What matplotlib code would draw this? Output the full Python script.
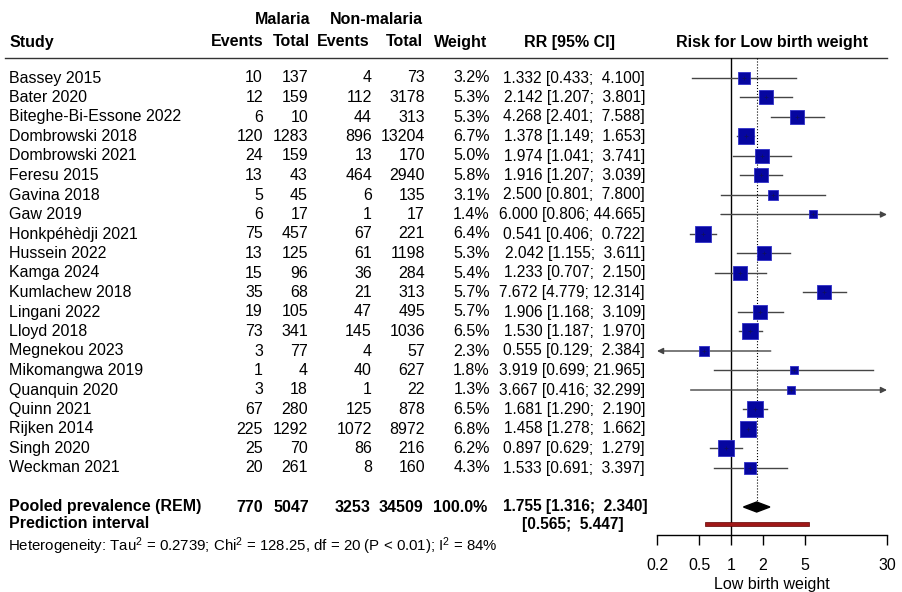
import numpy as np
import matplotlib.pyplot as plt
from matplotlib.patches import Rectangle, Polygon
from matplotlib.ticker import NullLocator

plt.rcParams['font.family'] = ['Liberation Sans', 'DejaVu Sans']
plt.rcParams['mathtext.fontset'] = 'custom'
plt.rcParams['mathtext.rm'] = 'Liberation Sans'
plt.rcParams['mathtext.default'] = 'regular'

# Study data
studies = ["Bassey 2015", "Bater 2020", "Biteghe-Bi-Essone 2022", "Dombrowski 2018",
           "Dombrowski 2021", "Feresu 2015", "Gavina 2018", "Gaw 2019", "Honkpéhèdji 2021",
           "Hussein 2022", "Kamga 2024", "Kumlachew 2018", "Lingani 2022", "Lloyd 2018",
           "Megnekou 2023", "Mikomangwa 2019", "Quanquin 2020", "Quinn 2021", "Rijken 2014",
           "Singh 2020", "Weckman 2021"]
ev_mal = [10, 12, 6, 120, 24, 13, 5, 6, 75, 13, 15, 35, 19, 73, 3, 1, 3, 67, 225, 25, 20]
tot_mal = [137, 159, 10, 1283, 159, 43, 45, 17, 457, 125, 96, 68, 105, 341, 77, 4, 18, 280, 1292, 70, 261]
ev_non = [4, 112, 44, 896, 13, 464, 6, 1, 67, 61, 36, 21, 47, 145, 4, 40, 1, 125, 1072, 86, 8]
tot_non = [73, 3178, 313, 13204, 170, 2940, 135, 17, 221, 1198, 284, 313, 495, 1036, 57, 627, 22, 878, 8972, 216, 160]
weight = [3.2, 5.3, 5.3, 6.7, 5.0, 5.8, 3.1, 1.4, 6.4, 5.3, 5.4, 5.7, 5.7, 6.5, 2.3, 1.8, 1.3, 6.5, 6.8, 6.2, 4.3]
rr = [1.332, 2.142, 4.268, 1.378, 1.974, 1.916, 2.500, 6.000, 0.541, 2.042, 1.233, 7.672,
      1.906, 1.530, 0.555, 3.919, 3.667, 1.681, 1.458, 0.897, 1.533]
lo = [0.433, 1.207, 2.401, 1.149, 1.041, 1.207, 0.801, 0.806, 0.406, 1.155, 0.707, 4.779,
      1.168, 1.187, 0.129, 0.699, 0.416, 1.290, 1.278, 0.629, 0.691]
hi = [4.100, 3.801, 7.588, 1.653, 3.741, 3.039, 7.800, 44.665, 0.722, 3.611, 2.150, 12.314,
      3.109, 1.970, 2.384, 21.965, 32.299, 2.190, 1.662, 1.279, 3.397]

pooled = [1.755, 1.316, 2.340]
pred_int = [0.565, 5.447]
pooled_totals = [770, 5047, 3253, 34509]
ticks = [0.2, 0.5, 1, 2, 5, 30]

W, H = 902, 592
fig = plt.figure(figsize=(W / 100, H / 100), dpi=100)

# background axes in pixel coordinates for the table text
bg = fig.add_axes([0, 0, 1, 1])
bg.set_xlim(0, W)
bg.set_ylim(H, 0)
bg.axis('off')

fs = 11.5
fs_rr = 11.2
row_y = 78 + 19.5 * np.arange(len(studies))
pool_y, pred_y, het_y = 507, 524, 546

# headers
bg.text(283, 20, "Malaria", ha='center', va='center', fontsize=fs, fontweight='bold')
bg.text(376, 20, "Non-malaria", ha='center', va='center', fontsize=fs, fontweight='bold')
bg.text(10, 42, "Study", ha='left', va='center', fontsize=fs, fontweight='bold')
for x, lab in zip([263, 310, 370, 423, 487], ["Events", "Total", "Events", "Total", "Weight"]):
    bg.text(x, 42, lab, ha='right', va='center', fontsize=fs, fontweight='bold')
bg.text(570, 42, "RR [95% CI]", ha='center', va='center', fontsize=fs, fontweight='bold')
bg.text(772, 42, "Risk for Low birth weight", ha='center', va='center', fontsize=fs, fontweight='bold')
bg.plot([5, 887], [58, 58], color='#333333', lw=1)

# study rows
for i, y in enumerate(row_y):
    bg.text(9, y, studies[i], ha='left', va='center', fontsize=fs)
    bg.text(263, y, str(ev_mal[i]), ha='right', va='center', fontsize=fs)
    bg.text(308, y, str(tot_mal[i]), ha='right', va='center', fontsize=fs)
    bg.text(372, y, str(ev_non[i]), ha='right', va='center', fontsize=fs)
    bg.text(425, y, str(tot_non[i]), ha='right', va='center', fontsize=fs)
    bg.text(490, y, f"{weight[i]:.1f}%", ha='right', va='center', fontsize=fs)
    bg.text(645, y, f"{rr[i]:.3f} [{lo[i]:.3f}; {hi[i]:>6.3f}]", ha='right', va='center', fontsize=fs_rr)

# pooled rows
bg.text(9, pool_y, "Pooled prevalence (REM)", ha='left', va='center', fontsize=fs, fontweight='bold')
for x, v in zip([263, 309, 370, 423], pooled_totals):
    bg.text(x, pool_y, str(v), ha='right', va='center', fontsize=fs, fontweight='bold')
bg.text(487, pool_y, "100.0%", ha='right', va='center', fontsize=fs, fontweight='bold')
bg.text(648, pool_y, f"{pooled[0]:.3f} [{pooled[1]:.3f}; {pooled[2]:>6.3f}]",
        ha='right', va='center', fontsize=fs_rr, fontweight='bold')
bg.text(9, pred_y, "Prediction interval", ha='left', va='center', fontsize=fs, fontweight='bold')
bg.text(624, pred_y, f"[{pred_int[0]:.3f}; {pred_int[1]:>6.3f}]",
        ha='right', va='center', fontsize=fs_rr, fontweight='bold')
bg.text(8, het_y, "Heterogeneity: Tau$^2$ = 0.2739; Chi$^2$ = 128.25, df = 20 (P < 0.01); I$^2$ = 84%",
        ha='left', va='center', fontsize=10.8)

# forest panel
x0, x1, ytop, ybot = 657, 887, 58, 535
ax = fig.add_axes([x0 / W, (H - ybot) / H, (x1 - x0) / W, (ybot - ytop) / H])
ax.set_xscale('log')
ax.set_xlim(0.2, 30)
ax.set_ylim(ybot, ytop)
ax.patch.set_alpha(0)
for s in ['top', 'left', 'right']:
    ax.spines[s].set_visible(False)
ax.spines['bottom'].set_linewidth(1)
ax.set_yticks([])
ax.set_xticks(ticks)
ax.set_xticklabels([str(t) for t in ticks], fontsize=fs)
ax.xaxis.set_minor_locator(NullLocator())
ax.tick_params(axis='x', direction='out', length=7.5, width=1, pad=9)
ax.set_xlabel("Low birth weight", fontsize=fs, labelpad=3)

ax.axvline(1, color='black', lw=1, zorder=1)
ax.vlines(pooled[0], ytop, pool_y - 6, colors='black', linestyles=':', lw=0.8, zorder=1)

line_col = '#454545'
for i, y in enumerate(row_y):
    a, b = max(lo[i], 0.2), min(hi[i], 30)
    if hi[i] > 30 or lo[i] < 0.2:
        start = a if hi[i] > 30 else b
        end = 30 if hi[i] > 30 else 0.2
        ax.annotate('', xy=(end, y), xytext=(start, y),
                    arrowprops=dict(arrowstyle='-|>', color=line_col, lw=1, mutation_scale=9,
                                    shrinkA=0, shrinkB=0), zorder=2)
    else:
        ax.plot([a, b], [y, y], color=line_col, lw=1, zorder=2)
    side = 16 * np.sqrt(weight[i] / 6.7) * 0.72
    ax.scatter(rr[i], y, marker='s', s=side ** 2, color='#0606A0', edgecolor='#3030C8',
               linewidth=0.6, zorder=3)
    ax.plot(rr[i], y, marker='+', color='#101060', ms=3, mew=0.6, zorder=4)

# pooled diamond
ax.add_patch(Polygon([(pooled[1], pool_y), (pooled[0], pool_y - 5), (pooled[2], pool_y),
                      (pooled[0], pool_y + 5)], closed=True, facecolor='black',
                     edgecolor='black', zorder=3))
# prediction interval bar
ax.add_patch(Rectangle((pred_int[0], pred_y - 2), pred_int[1] - pred_int[0], 4,
                       facecolor='#A01818', edgecolor='#600000', lw=0.5, zorder=3))

fig.savefig("out.png", dpi=100)
